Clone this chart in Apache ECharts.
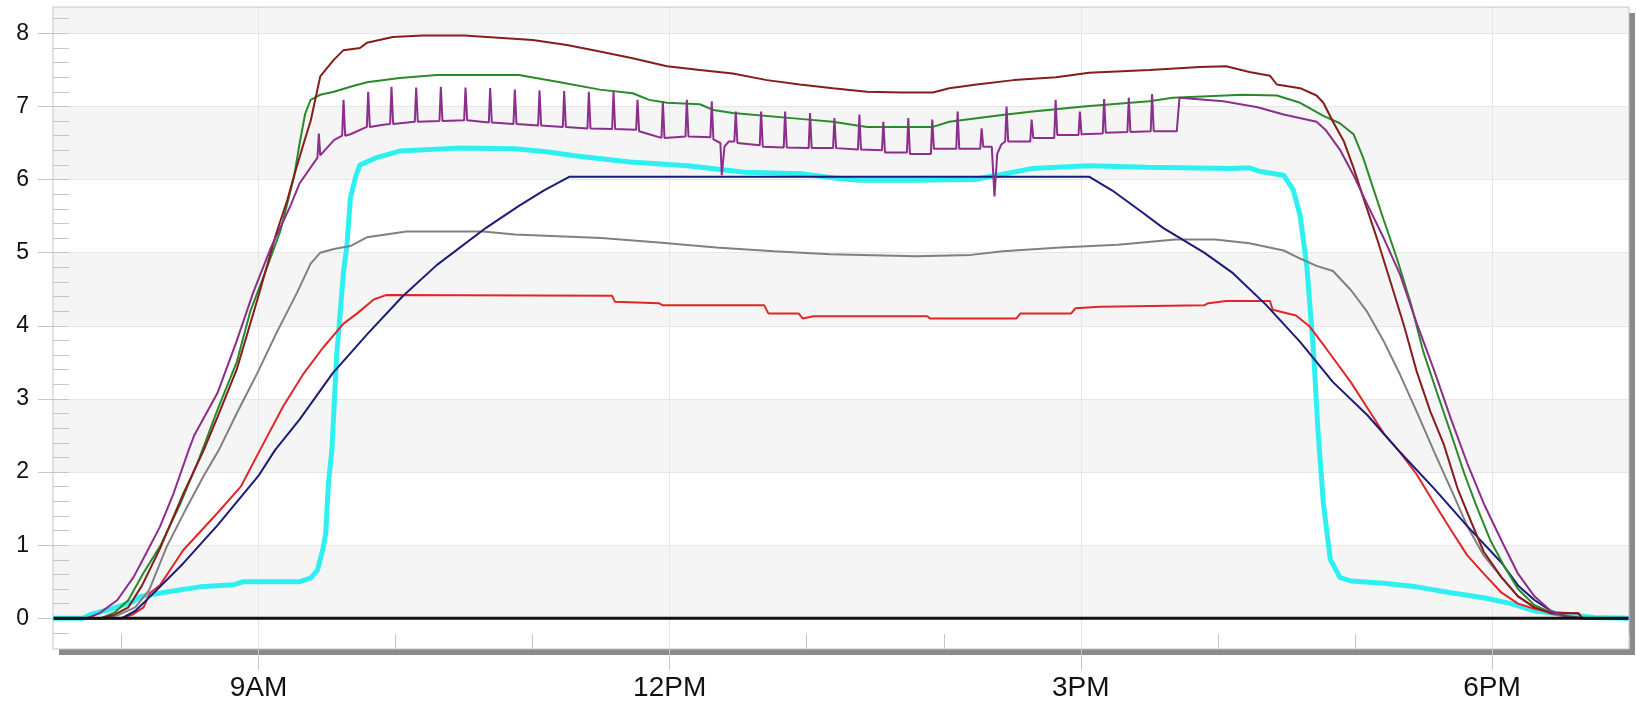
<!DOCTYPE html>
<html>
<head>
<meta charset="utf-8">
<script src="https://cdn.jsdelivr.net/npm/echarts@6/dist/echarts.min.js"></script>
<style>
html,body{margin:0;padding:0;background:#fff;}
#chart{width:1636px;height:703px;}
</style>
</head>
<body>
<div id="chart"></div>
<script>
// ---------- data (x = hour of day, y = value) ----------
const xLabelHours = [9, 12, 15, 18];
const xLabels = ['9AM', '12PM', '3PM', '6PM'];
const yLabels = [0, 1, 2, 3, 4, 5, 6, 7, 8];

const baseline = [[7.5,0],[19,0]];

const maroon = [[7.5,0],[7.85,0],[7.95,0.05],[8.05,0.15],[8.15,0.45],[8.28,0.95],[8.45,1.7],[8.6,2.3],[8.7,2.75],[8.84,3.4],[8.99,4.35],[9.13,5.27],[9.21,5.72],[9.26,6.06],[9.33,6.5],[9.38,6.8],[9.45,7.41],[9.55,7.64],[9.62,7.77],[9.74,7.8],[9.79,7.87],[9.98,7.95],[10.2,7.97],[10.5,7.97],[10.75,7.94],[11.0,7.91],[11.25,7.84],[11.49,7.75],[11.73,7.66],[11.98,7.55],[12.22,7.5],[12.46,7.45],[12.71,7.36],[12.95,7.3],[13.19,7.25],[13.44,7.2],[13.7,7.19],[13.92,7.19],[14.04,7.25],[14.24,7.3],[14.51,7.36],[14.82,7.4],[15.06,7.46],[15.5,7.5],[15.87,7.54],[16.06,7.55],[16.23,7.47],[16.38,7.42],[16.43,7.3],[16.6,7.25],[16.72,7.15],[16.77,7.05],[16.84,6.79],[16.92,6.52],[16.99,6.16],[17.06,5.76],[17.16,5.2],[17.26,4.6],[17.36,3.99],[17.45,3.38],[17.55,2.83],[17.65,2.37],[17.75,1.77],[17.85,1.31],[17.94,0.91],[18.07,0.56],[18.19,0.3],[18.31,0.15],[18.43,0.07],[18.63,0.07],[18.66,0],[19,0]];

const green = [[7.5,0],[7.85,0],[7.95,0.08],[8.05,0.25],[8.16,0.62],[8.28,0.98],[8.43,1.57],[8.57,2.2],[8.7,2.85],[8.84,3.5],[8.94,4.2],[9.04,4.69],[9.16,5.3],[9.26,6.05],[9.3,6.5],[9.34,6.9],[9.38,7.09],[9.45,7.16],[9.55,7.2],[9.67,7.27],[9.79,7.33],[10.03,7.39],[10.3,7.43],[10.9,7.43],[11.2,7.33],[11.49,7.23],[11.73,7.18],[11.85,7.09],[11.98,7.05],[12.22,7.03],[12.32,6.95],[12.46,6.91],[12.95,6.83],[13.19,6.79],[13.44,6.72],[13.92,6.72],[14.04,6.79],[14.24,6.84],[14.41,6.88],[14.65,6.93],[15.02,7.0],[15.5,7.07],[15.67,7.12],[16.18,7.16],[16.43,7.15],[16.6,7.05],[16.77,6.87],[16.89,6.77],[16.99,6.62],[17.06,6.3],[17.13,5.9],[17.21,5.45],[17.31,4.9],[17.41,4.29],[17.5,3.64],[17.6,3.08],[17.7,2.53],[17.8,1.97],[17.89,1.52],[17.99,1.06],[18.09,0.71],[18.19,0.4],[18.31,0.18],[18.43,0.08],[18.55,0.03],[18.65,0],[19,0]];

const purple = [[7.5,0],[7.75,0],[7.84,0.07],[7.97,0.25],[8.09,0.57],[8.18,0.89],[8.28,1.25],[8.38,1.71],[8.49,2.3],[8.53,2.5],[8.7,3.08],[8.84,3.79],[8.96,4.45],[9.09,5.07],[9.23,5.63],[9.3,5.95],[9.43,6.3],[9.44,6.63],[9.45,6.33],[9.55,6.54],[9.61,6.6],[9.62,7.09],[9.632,6.6],[9.67,6.62],[9.79,6.72],[9.8,7.2],[9.812,6.72],[9.91,6.75],[9.96,6.76],[9.97,7.27],[9.982,6.76],[10.14,6.79],[10.15,7.26],[10.162,6.79],[10.32,6.8],[10.33,7.27],[10.342,6.8],[10.5,6.81],[10.51,7.26],[10.522,6.81],[10.68,6.78],[10.69,7.25],[10.702,6.78],[10.86,6.76],[10.87,7.23],[10.882,6.76],[11.04,6.74],[11.05,7.22],[11.062,6.74],[11.22,6.72],[11.23,7.21],[11.242,6.72],[11.4,6.7],[11.41,7.2],[11.422,6.7],[11.58,6.69],[11.59,7.2],[11.602,6.69],[11.755,6.68],[11.765,7.09],[11.777,6.66],[11.85,6.62],[11.94,6.57],[11.95,7.07],[11.962,6.57],[12.115,6.59],[12.125,7.09],[12.137,6.59],[12.297,6.58],[12.307,7.07],[12.319,6.55],[12.37,6.5],[12.38,6.06],[12.4,6.45],[12.43,6.52],[12.472,6.52],[12.482,6.93],[12.494,6.5],[12.657,6.47],[12.667,6.93],[12.679,6.45],[12.832,6.44],[12.842,6.93],[12.854,6.44],[13.014,6.43],[13.024,6.91],[13.036,6.43],[13.192,6.43],[13.202,6.84],[13.214,6.43],[13.374,6.41],[13.384,6.89],[13.396,6.41],[13.549,6.4],[13.559,6.79],[13.571,6.37],[13.731,6.37],[13.741,6.84],[13.753,6.35],[13.906,6.35],[13.916,6.82],[13.928,6.42],[14.091,6.42],[14.101,6.93],[14.113,6.42],[14.266,6.42],[14.276,6.7],[14.288,6.45],[14.35,6.45],[14.37,5.77],[14.39,6.35],[14.42,6.48],[14.448,6.52],[14.458,7.0],[14.47,6.52],[14.631,6.52],[14.641,6.82],[14.653,6.57],[14.806,6.57],[14.816,7.09],[14.828,6.61],[14.983,6.61],[14.993,6.93],[15.005,6.62],[15.16,6.63],[15.17,7.1],[15.182,6.64],[15.34,6.65],[15.35,7.12],[15.362,6.65],[15.51,6.66],[15.52,7.17],[15.532,6.66],[15.7,6.66],[15.72,7.12],[16.04,7.07],[16.29,6.99],[16.48,6.89],[16.72,6.79],[16.79,6.67],[16.89,6.41],[16.99,6.06],[17.09,5.66],[17.21,5.2],[17.33,4.7],[17.45,4.04],[17.58,3.38],[17.7,2.73],[17.82,2.12],[17.94,1.57],[18.07,1.06],[18.19,0.61],[18.31,0.3],[18.43,0.1],[18.55,0.02],[18.65,0],[19,0]];

const cyan = [[7.5,0],[7.72,0],[7.77,0.05],[7.91,0.12],[8.09,0.23],[8.14,0.3],[8.33,0.36],[8.57,0.43],[8.82,0.46],[8.89,0.5],[9.3,0.5],[9.38,0.55],[9.43,0.66],[9.47,0.95],[9.49,1.16],[9.51,1.85],[9.535,2.3],[9.57,3.6],[9.62,4.74],[9.645,5.1],[9.67,5.75],[9.71,6.05],[9.74,6.2],[9.86,6.3],[10.03,6.39],[10.45,6.43],[10.87,6.42],[11.1,6.38],[11.29,6.33],[11.71,6.24],[12.13,6.19],[12.55,6.1],[12.96,6.08],[13.2,6.02],[13.38,5.99],[13.8,5.99],[14.22,6.0],[14.45,6.08],[14.64,6.15],[15.06,6.19],[15.48,6.17],[16.1,6.15],[16.23,6.16],[16.31,6.11],[16.48,6.06],[16.55,5.86],[16.6,5.51],[16.65,4.8],[16.7,3.59],[16.73,2.58],[16.77,1.57],[16.82,0.81],[16.89,0.56],[16.97,0.51],[17.21,0.48],[17.45,0.43],[17.7,0.35],[17.94,0.28],[18.14,0.2],[18.31,0.1],[18.55,0.05],[18.75,0.01],[19,0]];

const navy = [[7.5,0],[8.0,0],[8.1,0.1],[8.21,0.3],[8.45,0.75],[8.7,1.27],[9.0,1.95],[9.12,2.3],[9.3,2.72],[9.54,3.35],[9.8,3.9],[10.05,4.4],[10.3,4.83],[10.66,5.34],[10.9,5.64],[11.08,5.85],[11.27,6.04],[15.06,6.04],[15.23,5.85],[15.45,5.55],[15.6,5.34],[15.9,5.0],[16.11,4.72],[16.35,4.29],[16.6,3.78],[16.84,3.23],[17.09,2.78],[17.33,2.27],[17.58,1.77],[17.82,1.26],[18.07,0.76],[18.19,0.45],[18.31,0.25],[18.43,0.1],[18.55,0.02],[18.65,0],[19,0]];

const gray = [[7.5,0],[7.88,0],[7.97,0.04],[8.1,0.15],[8.2,0.38],[8.33,0.98],[8.48,1.53],[8.6,1.95],[8.71,2.3],[8.84,2.8],[8.99,3.35],[9.13,3.9],[9.28,4.45],[9.38,4.85],[9.45,5.0],[9.55,5.05],[9.67,5.09],[9.79,5.21],[10.08,5.29],[10.64,5.29],[10.87,5.25],[11.5,5.2],[11.92,5.14],[12.34,5.07],[12.76,5.02],[13.17,4.98],[13.8,4.95],[14.2,4.97],[14.43,5.02],[14.85,5.07],[15.27,5.11],[15.69,5.18],[15.98,5.18],[16.23,5.13],[16.48,5.03],[16.6,4.92],[16.72,4.82],[16.84,4.75],[16.97,4.49],[17.09,4.19],[17.21,3.79],[17.33,3.33],[17.45,2.83],[17.58,2.27],[17.7,1.77],[17.82,1.26],[17.94,0.86],[18.07,0.56],[18.19,0.3],[18.31,0.15],[18.43,0.06],[18.55,0.02],[18.65,0],[19,0]];

const red = [[7.5,0],[8.0,0],[8.08,0.05],[8.16,0.15],[8.21,0.35],[8.28,0.45],[8.45,0.93],[8.7,1.44],[8.87,1.8],[9.01,2.3],[9.18,2.9],[9.33,3.35],[9.47,3.7],[9.62,4.03],[9.72,4.17],[9.84,4.36],[9.93,4.42],[11.58,4.41],[11.6,4.33],[11.92,4.31],[11.95,4.28],[12.69,4.28],[12.72,4.17],[12.94,4.17],[12.97,4.1],[13.05,4.13],[13.88,4.13],[13.9,4.1],[14.53,4.1],[14.56,4.17],[14.93,4.17],[14.96,4.24],[15.14,4.26],[15.9,4.28],[15.93,4.31],[16.06,4.34],[16.38,4.34],[16.4,4.22],[16.57,4.14],[16.67,3.99],[16.79,3.69],[16.97,3.23],[17.09,2.88],[17.21,2.53],[17.33,2.27],[17.45,1.97],[17.58,1.57],[17.7,1.21],[17.82,0.86],[17.94,0.61],[18.07,0.35],[18.19,0.2],[18.31,0.13],[18.43,0.08],[18.63,0.07],[18.66,0],[19,0]];

// ---------- layout ----------
const xMin = 7.5, xMax = 19, yMin = -0.42, yMax = 8.36;
const L = 53, T = 7, W = 1576, H = 642;
const X = h => L + (h - xMin) / (xMax - xMin) * W;
const Y = v => T + (yMax - v) / (yMax - yMin) * H;
const FONT = "'Liberation Sans', Arial, sans-serif";
const tickColor = '#c6c6c6';
const gridLineColor = '#e6e6e6';

const hidden = (g) => ({gridIndex: g, type: 'value', show: false, min: 0, max: 1});

const grids = [
  // 0: data area, white background with offset shadow
  {left: L, top: T, width: W, height: H, show: true, backgroundColor: '#ffffff', borderWidth: 0,
   shadowColor: '#8a8a8a', shadowBlur: 0, shadowOffsetX: 6, shadowOffsetY: 6, z: 0},
  // 1: band above 8
  {left: L, top: T, width: W, height: Y(8) - T, show: true, backgroundColor: '#f5f5f5', borderWidth: 0, z: 0},
  // 2: integer y ticks, labels, split lines and bands
  {left: L, top: Y(8), width: W, height: Y(0) - Y(8)},
  // 3: minor y ticks
  {left: L, top: Y(8.2), width: W, height: Y(-0.2) - Y(8.2)},
  // 4: hourly x ticks
  {left: X(8), top: T, width: X(19) - X(8), height: H},
  // 5: labelled x ticks / vertical grid lines
  {left: X(9), top: T, width: X(18) - X(9), height: H},
  // 6: border on top
  {left: L, top: T, width: W, height: H, show: true, backgroundColor: 'transparent', borderColor: '#c4c4c4', borderWidth: 1, z: 10}
];

const xAxes = [
  {gridIndex: 0, type: 'value', min: xMin, max: xMax, show: false},
  hidden(1), hidden(2), hidden(3),
  {gridIndex: 4, type: 'value', min: 8, max: 19, interval: 1,
   axisLine: {show: false}, axisLabel: {show: false}, splitLine: {show: false},
   axisTick: {show: true, inside: true, length: 15, lineStyle: {color: tickColor, width: 1}}},
  {gridIndex: 5, type: 'value', min: 9, max: 18, interval: 3, z: 1,
   axisLine: {show: false},
   axisTick: {show: true, inside: false, length: 21, lineStyle: {color: tickColor, width: 1}},
   axisLabel: {show: true, margin: 25, fontSize: 28, color: '#111', fontFamily: FONT,
     formatter: v => { const i = xLabelHours.indexOf(Math.round(v)); return i >= 0 ? xLabels[i] : ''; }},
   splitLine: {show: true, showMinLine: true, showMaxLine: true, lineStyle: {color: gridLineColor, width: 1}}},
  hidden(6)
];

const yAxes = [
  {gridIndex: 0, type: 'value', min: yMin, max: yMax, show: false},
  hidden(1),
  {gridIndex: 2, type: 'value', min: yLabels[0], max: yLabels[yLabels.length - 1], interval: 1, z: 0,
   axisLine: {show: false},
   axisTick: {show: true, inside: false, length: 15, lineStyle: {color: tickColor, width: 1}},
   axisLabel: {show: true, margin: 24, fontSize: 23, color: '#111', fontFamily: FONT,
     formatter: v => yLabels.indexOf(Math.round(v)) >= 0 ? String(Math.round(v)) : ''},
   splitLine: {show: true, lineStyle: {color: gridLineColor, width: 1}},
   splitArea: {show: true, areaStyle: {color: ['#f5f5f5', 'rgba(255,255,255,0)']}}},
  {gridIndex: 3, type: 'value', min: -0.2, max: 8.2, interval: 0.2,
   axisLine: {show: false}, axisLabel: {show: false}, splitLine: {show: false},
   axisTick: {show: true, inside: true, length: 16, lineStyle: {color: tickColor, width: 1}}},
  hidden(4), hidden(5), hidden(6)
];

const mk = (name, data, color, width) => ({
  name, type: 'line', data, xAxisIndex: 0, yAxisIndex: 0,
  showSymbol: false, symbol: 'none', smooth: false, clip: true,
  lineStyle: {color, width}, itemStyle: {color}, emphasis: {disabled: true}
});

const option = {
  animation: false,
  backgroundColor: '#ffffff',
  grid: grids,
  xAxis: xAxes,
  yAxis: yAxes,
  series: [
    mk('cyan', cyan, '#2ff0f0', 5),
    mk('gray', gray, '#808080', 2),
    mk('red', red, '#e02626', 2),
    mk('navy', navy, '#1b1b78', 2),
    mk('green', green, '#2a8a2a', 2),
    mk('maroon', maroon, '#861c1c', 2),
    mk('purple', purple, '#8c2e8c', 2),
    mk('baseline', baseline, '#111111', 3)
  ]
};

const chart = echarts.init(document.getElementById('chart'), null, {renderer: 'canvas'});
chart.setOption(option);
</script>
</body>
</html>
